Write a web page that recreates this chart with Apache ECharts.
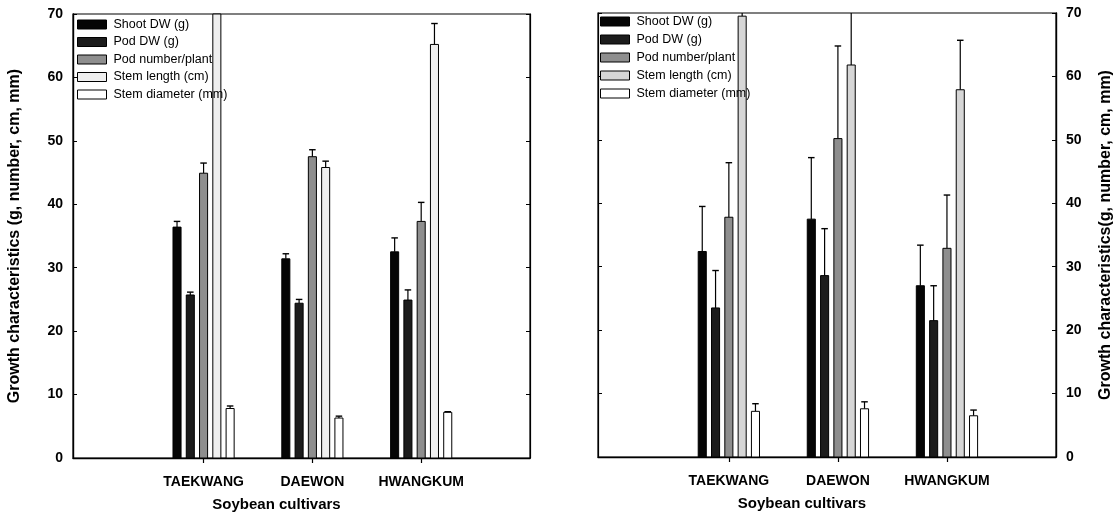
<!DOCTYPE html>
<html>
<head>
<meta charset="utf-8">
<script src="https://cdn.jsdelivr.net/npm/echarts@6/dist/echarts.min.js"></script>
<style>
  html, body { margin: 0; padding: 0; background: #fff; }
  #chart { width: 1114px; height: 515px; }
</style>
</head>
<body>
<div id="chart"></div>
<script>
// Cultivars and measured traits
const cultivars = ['TAEKWANG', 'DAEWON', 'HWANGKUM'];
const traitNames = ['Shoot DW (g)', 'Pod DW (g)', 'Pod number/plant', 'Stem length (cm)', 'Stem diameter (mm)'];
const yTicks = [0, 10, 20, 30, 40, 50, 60, 70];

// Left panel: means and standard errors per cultivar
const leftShootDW = [36.4, 31.4, 32.5];
const leftShootDWErr = [0.9, 0.8, 2.2];
const leftPodDW = [25.7, 24.4, 24.9];
const leftPodDWErr = [0.45, 0.6, 1.6];
const leftPodNumber = [44.9, 47.5, 37.3];
const leftPodNumberErr = [1.6, 1.1, 3.0];
const leftStemLength = [74.0, 45.8, 65.2];
const leftStemLengthErr = [3.0, 1.0, 3.3];
const leftStemDiameter = [7.8, 6.3, 7.2];
const leftStemDiameterErr = [0.4, 0.3, 0.1];

// Right panel: means and standard errors per cultivar
const rightShootDW = [32.4, 37.5, 27.0];
const rightShootDWErr = [7.1, 9.7, 6.4];
const rightPodDW = [23.5, 28.6, 21.5];
const rightPodDWErr = [5.9, 7.4, 5.5];
const rightPodNumber = [37.8, 50.2, 32.9];
const rightPodNumberErr = [8.6, 14.6, 8.4];
const rightStemLength = [69.5, 61.8, 57.9];
const rightStemLengthErr = [3.0, 9.5, 7.8];
const rightStemDiameter = [7.2, 7.6, 6.5];
const rightStemDiameterErr = [1.2, 1.1, 0.9];

const FONT = "'Liberation Sans', Arial, Helvetica, sans-serif";
const PITCH = 0.122;   // spacing between bars in a group (x-axis units)
const BAR_W = 0.074;   // bar width (x-axis units)
const CAP_W = 0.06;    // error cap width (x-axis units)

const leftColors = ['#050505', '#1c1c1c', '#8e8e8e', '#efefef', '#ffffff'];
const rightColors = ['#050505', '#1c1c1c', '#8e8e8e', '#d6d6d6', '#ffffff'];

function rows(means, errs) {
  return means.map((v, i) => [i, v, errs[i]]);
}

function barRenderer(slot, color) {
  return function (params, api) {
    const cs = params.coordSys;
    const ci = api.value(0), v = api.value(1), e = api.value(2);
    const xc = ci + 1 + (slot - 2) * PITCH;
    const top = api.coord([xc, v]);
    const base = api.coord([xc, 0]);
    const hi = api.coord([xc, v + e]);
    const w = api.size([BAR_W, 0])[0];
    const cw = api.size([CAP_W, 0])[0];
    const yTop = Math.max(top[1], cs.y);
    const yHi = Math.max(hi[1], cs.y);
    const children = [];
    children.push({
      type: 'line',
      shape: { x1: top[0], y1: yTop, x2: hi[0], y2: yHi },
      style: { stroke: '#000', lineWidth: 1.2 }
    });
    if (hi[1] >= cs.y) {
      children.push({
        type: 'line',
        shape: { x1: hi[0] - cw / 2, y1: yHi, x2: hi[0] + cw / 2, y2: yHi },
        style: { stroke: '#000', lineWidth: 1.4 }
      });
    }
    children.push({
      type: 'rect',
      shape: { x: top[0] - w / 2, y: yTop, width: w, height: base[1] - yTop },
      style: { fill: color, stroke: '#000', lineWidth: 1 }
    });
    return { type: 'group', children: children };
  };
}

function panelSeries(gridIdx, sets, colors) {
  return sets.map((s, k) => ({
    type: 'custom',
    name: traitNames[k],
    xAxisIndex: gridIdx,
    yAxisIndex: gridIdx * 2,
    itemStyle: { color: colors[k], borderColor: '#000', borderWidth: 1 },
    encode: { x: 0, y: 1 },
    data: rows(s[0], s[1]),
    renderItem: barRenderer(k, colors[k]),
    z: 3
  }));
}

function legendFor(leftPx, topPx, gap, colors) {
  return {
    orient: 'vertical',
    left: leftPx,
    top: topPx,
    padding: 0,
    itemWidth: 29,
    itemHeight: 9,
    itemGap: gap,
    icon: 'rect',
    selectedMode: false,
    textStyle: { fontFamily: FONT, fontSize: 12.5, color: '#000', padding: [0, 0, 0, 2] },
    data: traitNames.map((n, k) => ({
      name: n,
      itemStyle: { color: colors[k], borderColor: '#000', borderWidth: 1 }
    }))
  };
}

function xAxisFor(gridIdx) {
  return {
    type: 'value',
    gridIndex: gridIdx,
    min: -0.2,
    max: 4.0,
    splitLine: { show: false },
    axisLine: { show: true, onZero: false, lineStyle: { color: '#000', width: 1.4 } },
    axisTick: { show: true, customValues: [1, 2, 3], length: 5, lineStyle: { color: '#000', width: 1.2 } },
    axisLabel: {
      customValues: [1, 2, 3],
      formatter: v => cultivars[Math.round(v) - 1] || '',
      fontFamily: FONT, fontWeight: 'bold', fontSize: 14, color: '#000', margin: 17
    },
    name: 'Soybean cultivars',
    nameLocation: 'middle',
    nameGap: 39,
    nameTextStyle: { fontFamily: FONT, fontWeight: 'bold', fontSize: 15, color: '#000', padding: [0, 50, 0, 0] }
  };
}

function yAxisMain(gridIdx, side, title, gap) {
  return {
    type: 'value',
    gridIndex: gridIdx,
    position: side,
    min: yTicks[0],
    max: yTicks[yTicks.length - 1],
    interval: 10,
    splitLine: { show: false },
    axisLine: { show: true, onZero: false, lineStyle: { color: '#000', width: 1.4 } },
    axisTick: { show: true, inside: true, length: 4, lineStyle: { color: '#000' } },
    axisLabel: { fontFamily: FONT, fontWeight: 'bold', fontSize: 14, color: '#000', margin: 10 },
    name: title,
    nameLocation: 'middle',
    nameRotate: 90,
    nameGap: gap,
    nameTextStyle: { fontFamily: FONT, fontWeight: 'bold', fontSize: 16, color: '#000' }
  };
}

function yAxisMirror(gridIdx, side) {
  return {
    type: 'value',
    gridIndex: gridIdx,
    position: side,
    min: 0, max: 70, interval: 10,
    splitLine: { show: false },
    axisLine: { show: true, onZero: false, lineStyle: { color: '#000', width: 1.2 } },
    axisTick: { show: true, inside: true, length: 4, lineStyle: { color: '#000' } },
    axisLabel: { show: false }
  };
}

const leftSets = [
  [leftShootDW, leftShootDWErr],
  [leftPodDW, leftPodDWErr],
  [leftPodNumber, leftPodNumberErr],
  [leftStemLength, leftStemLengthErr],
  [leftStemDiameter, leftStemDiameterErr]
];
const rightSets = [
  [rightShootDW, rightShootDWErr],
  [rightPodDW, rightPodDWErr],
  [rightPodNumber, rightPodNumberErr],
  [rightStemLength, rightStemLengthErr],
  [rightStemDiameter, rightStemDiameterErr]
];

const option = {
  backgroundColor: '#fff',
  animation: false,
  grid: [
    { left: 73, right: 584, top: 14, bottom: 57, containLabel: false, outerBoundsMode: 'none',
      show: true, borderColor: '#000', borderWidth: 1.2 },
    { left: 598, right: 58, top: 13, bottom: 58, containLabel: false, outerBoundsMode: 'none',
      show: true, borderColor: '#000', borderWidth: 1.2 }
  ],
  legend: [legendFor(77, 18, 4.5, leftColors), legendFor(600, 15, 5, rightColors)],
  xAxis: [xAxisFor(0), xAxisFor(1)],
  yAxis: [
    yAxisMain(0, 'left', 'Growth characteristics (g, number, cm, mm)', 50),
    yAxisMirror(0, 'right'),
    yAxisMain(1, 'right', 'Growth characteristics(g, number, cm, mm)', 42),
    yAxisMirror(1, 'left')
  ],
  series: panelSeries(0, leftSets, leftColors).concat(panelSeries(1, rightSets, rightColors))
};

const chart = echarts.init(document.getElementById('chart'), null, { renderer: 'canvas' });
chart.setOption(option);
</script>
</body>
</html>
